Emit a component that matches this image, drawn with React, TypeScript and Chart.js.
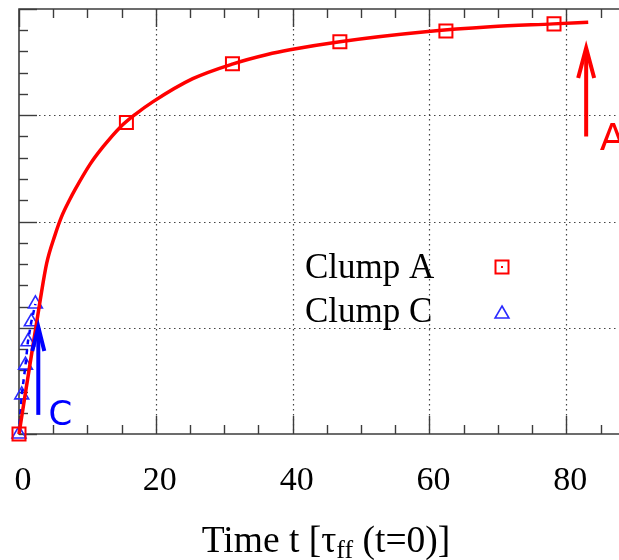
import React, { useEffect, useRef } from 'react';
import { Chart, registerables } from 'chart.js';

Chart.register(...registerables);

// ---- data ----
const clumpATime = [0, 15.7, 31.2, 46.9, 62.4, 78.2];
const clumpAValue = [0, 0.733, 0.871, 0.923, 0.948, 0.965];

const clumpCTime = [0, 0.4, 0.95, 1.3, 1.8, 2.4];
const clumpCValue = [0, 0.092, 0.162, 0.217, 0.264, 0.306];

const fitTime = [0, 3.1, 4.05, 5.26, 6.24, 7.46, 8.19, 10.4, 12.3, 14.8, 17.0, 19.6, 25.4, 31.3, 36.3, 39.6, 46.9, 59.8, 68.9, 78.1, 83.2];
const fitValue = [0, 0.315, 0.402, 0.468, 0.512, 0.553, 0.575, 0.635, 0.676, 0.722, 0.752, 0.782, 0.836, 0.871, 0.893, 0.904, 0.923, 0.947, 0.958, 0.965, 0.969];

const xMajorTicks = [0, 20, 40, 60, 80];
const xTickLabels = ['0', '20', '40', '60', '80'];
const xMinorStep = 5;
const yMajorStep = 0.25;
const yMinorStep = 0.05;

const legendLabels = ['Clump A', 'Clump C'];

// annotation arrows (data coordinates)
const arrowA = { x: 82.9, from: 0.7, to: 0.908, label: 'A', lx: 84.9, ly: 0.668 };
const arrowC = { x: 2.82, from: 0.045, to: 0.252, label: 'C', lx: 4.3, ly: 0.021 };

const X_MIN = 0;
const X_MAX = 87.7;
const Y_MIN = 0;
const Y_MAX = 1;

const RED = '#ff0000';
const BLUE = '#0000ff';
const AXIS = '#3c3c3c';
const SERIF = '"Liberation Serif", "DejaVu Serif", serif';
const SANS = '"DejaVu Sans", "Liberation Sans", sans-serif';

function drawTriangle(ctx: CanvasRenderingContext2D, cx: number, cy: number, r: number) {
  ctx.beginPath();
  for (let i = 0; i < 3; i++) {
    const a = (i * 2 * Math.PI) / 3;
    const px = cx + Math.sin(a) * r;
    const py = cy - Math.cos(a) * r;
    if (i === 0) ctx.moveTo(px, py);
    else ctx.lineTo(px, py);
  }
  ctx.closePath();
  ctx.stroke();
}

function drawArrow(ctx: CanvasRenderingContext2D, x: number, yBase: number, yTip: number, color: string, headLen: number, headHalf: number) {
  ctx.save();
  ctx.strokeStyle = color;
  ctx.lineWidth = 4;
  ctx.lineCap = 'butt';
  ctx.beginPath();
  ctx.moveTo(x, yBase);
  ctx.lineTo(x, yTip + 2);
  ctx.stroke();
  ctx.lineJoin = 'miter';
  ctx.beginPath();
  ctx.moveTo(x - headHalf, yTip + headLen);
  ctx.lineTo(x, yTip);
  ctx.lineTo(x + headHalf, yTip + headLen);
  ctx.stroke();
  ctx.restore();
}

const gnuplotPlugin = {
  id: 'gnuplotAxes',
  beforeDatasetsDraw(chart: any) {
    const { ctx, chartArea: a, scales } = chart;
    const x = scales.x;
    const y = scales.y;
    ctx.save();
    // grid
    ctx.strokeStyle = '#444';
    ctx.lineWidth = 1.2;
    ctx.setLineDash([1.5, 3.5]);
    for (const v of xMajorTicks) {
      if (v === X_MIN) continue;
      const px = Math.round(x.getPixelForValue(v)) + 0.5;
      ctx.beginPath();
      ctx.moveTo(px, a.top);
      ctx.lineTo(px, a.bottom);
      ctx.stroke();
    }
    const nY = Math.round((Y_MAX - Y_MIN) / yMajorStep);
    for (let i = 1; i < nY; i++) {
      const py = Math.round(y.getPixelForValue(Y_MIN + i * yMajorStep)) + 0.5;
      ctx.beginPath();
      ctx.moveTo(a.left, py);
      ctx.lineTo(a.right, py);
      ctx.stroke();
    }
    ctx.setLineDash([]);
    // axes
    ctx.strokeStyle = AXIS;
    ctx.lineWidth = 1.6;
    ctx.beginPath();
    ctx.moveTo(a.right + 2, a.top);
    ctx.lineTo(a.left, a.top);
    ctx.lineTo(a.left, a.bottom);
    ctx.lineTo(a.right + 2, a.bottom);
    ctx.stroke();
    // x ticks
    ctx.lineWidth = 1.4;
    const nX = Math.floor((X_MAX - X_MIN) / xMinorStep + 1e-6);
    for (let i = 0; i <= nX; i++) {
      const v = X_MIN + i * xMinorStep;
      const major = xMajorTicks.includes(v);
      const len = major ? 18 : 9;
      const px = Math.round(x.getPixelForValue(v)) + 0.5;
      ctx.beginPath();
      ctx.moveTo(px, a.bottom);
      ctx.lineTo(px, a.bottom - len);
      ctx.moveTo(px, a.top);
      ctx.lineTo(px, a.top + len);
      ctx.stroke();
    }
    // y ticks
    const nYm = Math.round((Y_MAX - Y_MIN) / yMinorStep);
    const ratio = Math.round(yMajorStep / yMinorStep);
    for (let i = 0; i <= nYm; i++) {
      const major = i % ratio === 0;
      const len = major ? 18 : 9;
      const py = Math.round(y.getPixelForValue(Y_MIN + i * yMinorStep)) + 0.5;
      ctx.beginPath();
      ctx.moveTo(a.left, py);
      ctx.lineTo(a.left + len, py);
      ctx.stroke();
    }
    // x tick labels
    ctx.fillStyle = '#000';
    ctx.font = `34px ${SERIF}`;
    ctx.textAlign = 'center';
    ctx.textBaseline = 'alphabetic';
    xMajorTicks.forEach((v, i) => {
      const px = x.getPixelForValue(v) + 4;
      ctx.fillText(xTickLabels[i], px, a.bottom + 56);
    });
    // x title with subscript
    const part1 = 'Time t [\u03c4';
    const sub = 'ff';
    const part2 = ' (t=0)]';
    ctx.font = `37.5px ${SERIF}`;
    const w1 = ctx.measureText(part1).width;
    const w3 = ctx.measureText(part2).width;
    ctx.font = `26px ${SERIF}`;
    const w2 = ctx.measureText(sub).width;
    const total = w1 + w2 + w3;
    let sx = 326 - total / 2;
    const base = a.bottom + 118;
    ctx.textAlign = 'left';
    ctx.font = `37.5px ${SERIF}`;
    ctx.fillText(part1, sx, base);
    sx += w1;
    ctx.font = `26px ${SERIF}`;
    ctx.fillText(sub, sx, base + 6);
    sx += w2;
    ctx.font = `37.5px ${SERIF}`;
    ctx.fillText(part2, sx, base);
    ctx.restore();
  },
  afterDatasetsDraw(chart: any) {
    const { ctx, scales } = chart;
    const x = scales.x;
    const y = scales.y;
    ctx.save();
    // legend
    ctx.fillStyle = '#000';
    ctx.font = `35px ${SERIF}`;
    ctx.textAlign = 'left';
    ctx.textBaseline = 'alphabetic';
    ctx.fillText(legendLabels[0], 305, 278);
    ctx.fillText(legendLabels[1], 305, 322);
    ctx.strokeStyle = RED;
    ctx.lineWidth = 2;
    ctx.strokeRect(495.5, 260.5, 13, 13);
    ctx.fillStyle = RED;
    ctx.fillRect(501, 266, 2, 2);
    ctx.strokeStyle = '#2a2aff';
    ctx.lineWidth = 1.6;
    drawTriangle(ctx, 502, 314, 8);
    // arrows
    drawArrow(ctx, x.getPixelForValue(arrowA.x), y.getPixelForValue(arrowA.from), y.getPixelForValue(arrowA.to), RED, 30, 8);
    drawArrow(ctx, x.getPixelForValue(arrowC.x), y.getPixelForValue(arrowC.from), y.getPixelForValue(arrowC.to), BLUE, 24, 6);
    ctx.fillStyle = RED;
    ctx.font = `38px ${SANS}`;
    ctx.fillText(arrowA.label, x.getPixelForValue(arrowA.lx), y.getPixelForValue(arrowA.ly));
    ctx.fillStyle = BLUE;
    ctx.font = `34px ${SANS}`;
    ctx.fillText(arrowC.label, x.getPixelForValue(arrowC.lx), y.getPixelForValue(arrowC.ly));
    ctx.restore();
  },
};

export default function App() {
  const ref = useRef<HTMLCanvasElement | null>(null);
  useEffect(() => {
    if (!ref.current) return;
    const chart = new Chart(ref.current, {
      type: 'scatter',
      data: {
        datasets: [
          {
            type: 'line',
            label: 'fit',
            data: fitTime.map((t, i) => ({ x: t, y: fitValue[i] })),
            borderColor: RED,
            borderWidth: 3.5,
            pointRadius: 0,
            cubicInterpolationMode: 'monotone',
            fill: false,
            clip: false,
          } as any,
          {
            type: 'line',
            label: 'Clump C line',
            data: clumpCTime.map((t, i) => ({ x: t, y: clumpCValue[i] })),
            borderColor: BLUE,
            borderWidth: 2.5,
            borderDash: [5, 5],
            pointRadius: 0,
            fill: false,
            clip: false,
          } as any,
          {
            label: legendLabels[0],
            data: clumpATime.map((t, i) => ({ x: t, y: clumpAValue[i] })),
            pointStyle: 'rect',
            pointRadius: 9.2,
            borderColor: RED,
            borderWidth: 2,
            backgroundColor: 'rgba(0,0,0,0)',
            showLine: false,
            clip: false,
          } as any,
          {
            label: legendLabels[1],
            data: clumpCTime.map((t, i) => ({ x: t, y: clumpCValue[i] })),
            pointStyle: 'triangle',
            pointRadius: 8,
            borderColor: '#2a2aff',
            borderWidth: 1.6,
            backgroundColor: 'rgba(0,0,0,0)',
            showLine: false,
            clip: false,
          } as any,
        ],
      },
      options: {
        animation: false,
        responsive: false,
        devicePixelRatio: 1,
        events: [],
        layout: { autoPadding: false, padding: { left: 19, top: 9, right: 0, bottom: 126 } },
        plugins: { legend: { display: false }, tooltip: { enabled: false } },
        scales: {
          x: { type: 'linear', min: X_MIN, max: X_MAX, display: false },
          y: { type: 'linear', min: Y_MIN, max: Y_MAX, display: false },
        },
      } as any,
      plugins: [gnuplotPlugin],
    });
    return () => chart.destroy();
  }, []);
  return (
    <div style={{ position: 'absolute', left: 0, top: 0, width: 619, height: 560, background: '#fff', overflow: 'hidden' }}>
      <canvas ref={ref} width={619} height={560} style={{ display: 'block' }} />
    </div>
  );
}
